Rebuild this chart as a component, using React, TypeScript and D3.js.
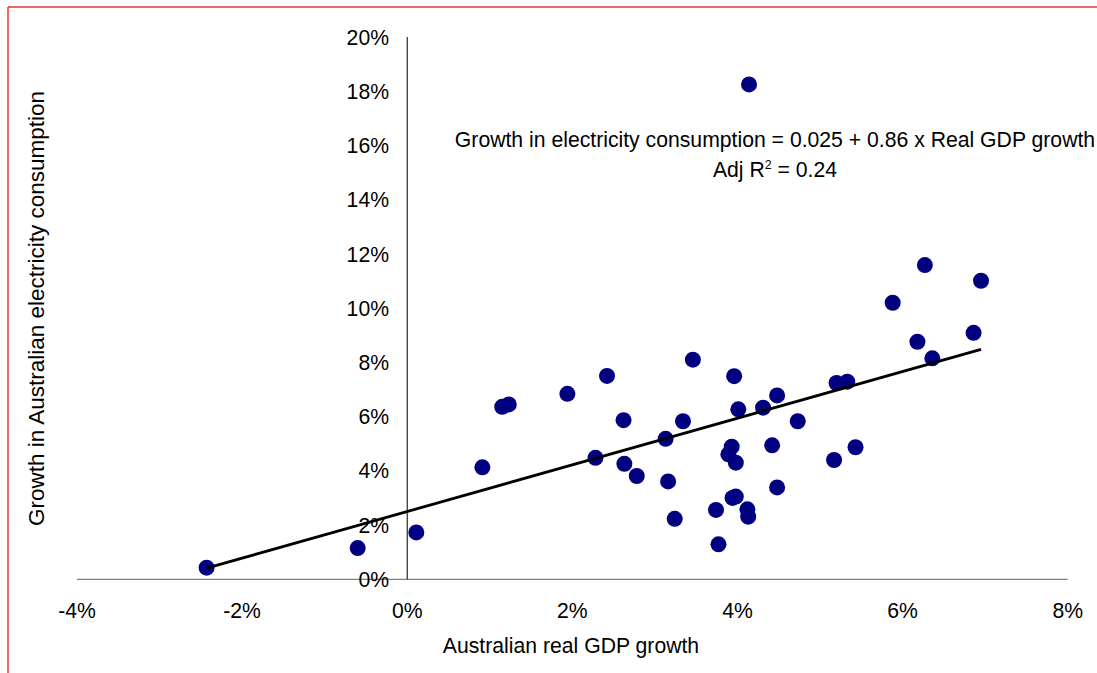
import React from "react";
import * as d3 from "d3";

// Australian real GDP growth (%)
const gdpGrowth: number[] = [
  -2.43, -0.6, 0.11, 0.91, 1.15, 1.23, 1.94, 2.28, 2.42, 2.62, 2.63, 2.78,
  3.13, 3.16, 3.24, 3.34, 3.46, 3.74, 3.77, 3.96, 3.93, 3.89, 3.98, 3.94,
  3.98, 4.01, 4.12, 4.13, 4.14, 4.31, 4.48, 4.42, 4.48, 4.73, 5.17, 5.2,
  5.33, 5.43, 5.88, 6.27, 6.95, 6.18, 6.86, 6.36,
];
// Growth in Australian electricity consumption (%)
const elecGrowth: number[] = [
  0.43, 1.15, 1.73, 4.13, 6.36, 6.45, 6.84, 4.48, 7.5, 5.87, 4.26, 3.81,
  5.18, 3.61, 2.23, 5.83, 8.1, 2.56, 1.29, 7.49, 4.89, 4.61, 4.3, 3.0,
  3.05, 6.27, 2.58, 2.31, 18.25, 6.33, 6.78, 4.94, 3.39, 5.83, 4.4, 7.24,
  7.29, 4.87, 10.2, 11.59, 11.01, 8.76, 9.09, 8.15,
];

const xTicks: number[] = [-4, -2, 0, 2, 4, 6, 8];
const yTicks: number[] = [0, 2, 4, 6, 8, 10, 12, 14, 16, 18, 20];

const intercept = 2.5; // 0.025 in %
const slope = 0.86;

const equationText = "Growth in electricity consumption = 0.025 + 0.86 x Real GDP growth";
const xTitle = "Australian real GDP growth";
const yTitle = "Growth in Australian electricity consumption";

const W = 1097;
const H = 673;
const FONT = "'Liberation Sans', Arial, sans-serif";

export default function App() {
  const x = d3.scaleLinear().domain([-4, 8]).range([77, 1067.7]);
  const y = d3.scaleLinear().domain([0, 20]).range([579.3, 37]);

  const xMin = d3.min(gdpGrowth) as number;
  const xMax = d3.max(gdpGrowth) as number;
  const fit = d3
    .line<number>()
    .x((d) => x(d))
    .y((d) => y(intercept + slope * d));

  const fs = 21.2;

  return (
    <svg
      width={W}
      height={H}
      style={{ position: "absolute", left: 0, top: 0, background: "#fff" }}
      fontFamily={FONT}
    >
      <rect x={0} y={0} width={W} height={H} fill="#fff" />
      {/* red frame */}
      <line x1={8} y1={7} x2={W} y2={7} stroke="#f03030" strokeWidth={1.5} />
      <line x1={8} y1={7} x2={8} y2={H} stroke="#f03030" strokeWidth={1.5} />

      {/* x axis */}
      <line x1={x(-4)} x2={x(8)} y1={y(0)} y2={y(0)} stroke="#808080" strokeWidth={1.2} />
      {/* y axis */}
      <line x1={x(0)} x2={x(0)} y1={y(0)} y2={y(20)} stroke="#000" strokeWidth={1} />

      {yTicks.map((t) => (
        <text
          key={"y" + t}
          x={389}
          y={y(t)}
          dy="0.36em"
          textAnchor="end"
          fontSize={fs}
          fill="#000"
        >
          {t + "%"}
        </text>
      ))}
      {xTicks.map((t) => (
        <text
          key={"x" + t}
          x={x(t)}
          y={618}
          textAnchor="middle"
          fontSize={fs}
          fill="#000"
        >
          {t + "%"}
        </text>
      ))}

      <text x={571} y={653} textAnchor="middle" fontSize={fs} fill="#000">
        {xTitle}
      </text>
      <text
        transform={`translate(44,308.5) rotate(-90)`}
        textAnchor="middle"
        fontSize={22.5}
        fill="#000"
      >
        {yTitle}
      </text>

      {gdpGrowth.map((g, i) => (
        <circle key={i} cx={x(g)} cy={y(elecGrowth[i])} r={8} fill="#000080" />
      ))}

      <path d={fit([xMin, xMax]) || ""} stroke="#000" strokeWidth={2.8} fill="none" />

      <text x={775} y={147} textAnchor="middle" fontSize={fs} fill="#000">
        {equationText}
      </text>
      <text x={775} y={177} textAnchor="middle" fontSize={fs} fill="#000">
        Adj R
        <tspan dy={-8} fontSize={12.5}>2</tspan>
        <tspan dy={8}> = 0.24</tspan>
      </text>
    </svg>
  );
}
